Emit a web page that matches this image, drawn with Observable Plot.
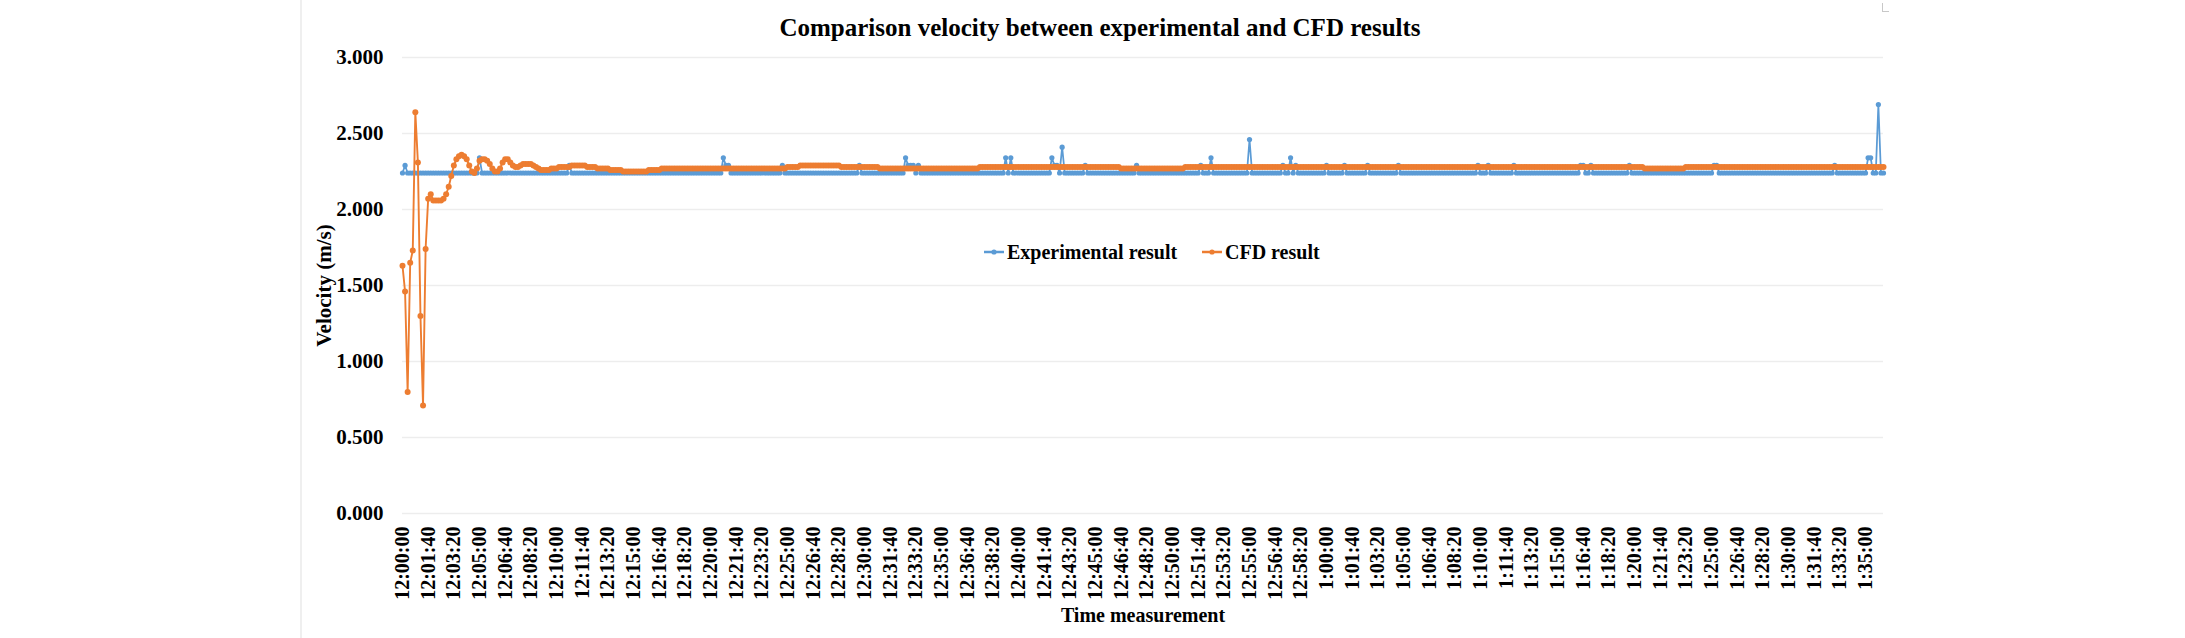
<!DOCTYPE html>
<html>
<head>
<meta charset="utf-8">
<script src="https://cdn.jsdelivr.net/npm/d3@7"></script>
<script src="https://cdn.jsdelivr.net/npm/@observablehq/plot@0.6"></script>
<style>
html,body{margin:0;padding:0;background:#fff;}
#wrap{position:relative;width:2185px;height:638px;overflow:hidden;font-family:"Liberation Serif","Times New Roman",serif;font-weight:bold;color:#000;}
#title{position:relative;height:48px;}
#title span{position:absolute;left:1100px;top:15px;transform:translateX(-50%);font-size:25px;line-height:1;white-space:nowrap;}
#border{position:absolute;left:300px;top:0;width:2px;height:638px;background:#efefef;}
#corner{position:absolute;left:1882px;top:3px;width:6px;height:8px;border-left:1px solid #c8c8c8;border-bottom:1px solid #c8c8c8;}
.leg{position:absolute;top:240px;font-size:20px;line-height:24px;white-space:nowrap;display:flex;align-items:center;}
.leg svg{margin-right:2px;}
</style>
</head>
<body>
<div id="wrap">
  <div id="border"></div>
  <div id="corner"></div>
  <div id="title"><span>Comparison velocity between experimental and CFD results</span></div>
  <div id="chart"></div>
  <div class="leg" id="leg1" style="left:983px;"></div>
  <div class="leg" id="leg2" style="left:1201px;"></div>
</div>
<script>
// Category tick labels (one label every 10 categories, 10 s per category)
const timeLabels = [
  "12:00:00","12:01:40","12:03:20","12:05:00","12:06:40","12:08:20","12:10:00","12:11:40","12:13:20","12:15:00",
  "12:16:40","12:18:20","12:20:00","12:21:40","12:23:20","12:25:00","12:26:40","12:28:20","12:30:00","12:31:40",
  "12:33:20","12:35:00","12:36:40","12:38:20","12:40:00","12:41:40","12:43:20","12:45:00","12:46:40","12:48:20",
  "12:50:00","12:51:40","12:53:20","12:55:00","12:56:40","12:58:20","1:00:00","1:01:40","1:03:20","1:05:00",
  "1:06:40","1:08:20","1:10:00","1:11:40","1:13:20","1:15:00","1:16:40","1:18:20","1:20:00","1:21:40",
  "1:23:20","1:25:00","1:26:40","1:28:20","1:30:00","1:31:40","1:33:20","1:35:00"
];
const labelInterval = 10;
const yTicks = [0, 0.5, 1, 1.5, 2, 2.5, 3];
const seriesNames = ["Experimental result", "CFD result"];

// Experimental result (m/s), one value per category
const expVelocity = [
  2.24,2.29,2.24,2.24,2.24,2.24,2.24,2.24,2.24,2.24,
  2.24,2.24,2.24,2.24,2.24,2.24,2.24,2.24,2.24,2.24,
  2.24,2.24,2.24,2.24,2.24,2.24,2.24,2.24,2.24,2.24,
  2.34,2.24,2.24,2.24,2.24,2.24,2.24,2.24,2.24,2.24,
  2.24,2.24,2.24,2.24,2.24,2.24,2.24,2.24,2.24,2.24,
  2.24,2.24,2.24,2.24,2.24,2.24,2.24,2.24,2.24,2.24,
  2.24,2.24,2.24,2.24,2.24,2.29,2.24,2.24,2.24,2.24,
  2.24,2.24,2.24,2.24,2.24,2.24,2.24,2.24,2.24,2.24,
  2.24,2.24,2.24,2.24,2.24,2.24,2.24,2.24,2.24,2.24,
  2.24,2.24,2.24,2.24,2.24,2.24,2.24,2.24,2.24,2.24,
  2.24,2.24,2.24,2.24,2.24,2.24,2.24,2.24,2.24,2.24,
  2.24,2.24,2.24,2.24,2.24,2.24,2.24,2.24,2.24,2.24,
  2.24,2.24,2.24,2.24,2.24,2.34,2.29,2.29,2.24,2.24,
  2.24,2.24,2.24,2.24,2.24,2.24,2.24,2.24,2.24,2.24,
  2.24,2.24,2.24,2.24,2.24,2.24,2.24,2.24,2.29,2.24,
  2.24,2.24,2.24,2.24,2.24,2.24,2.24,2.24,2.24,2.24,
  2.24,2.24,2.24,2.24,2.24,2.24,2.24,2.24,2.24,2.24,
  2.24,2.24,2.24,2.24,2.24,2.24,2.24,2.24,2.29,2.24,
  2.24,2.24,2.24,2.24,2.24,2.24,2.24,2.24,2.24,2.24,
  2.24,2.24,2.24,2.24,2.24,2.24,2.34,2.29,2.29,2.29,
  2.24,2.29,2.24,2.24,2.24,2.24,2.24,2.24,2.24,2.24,
  2.24,2.24,2.24,2.24,2.24,2.24,2.24,2.24,2.24,2.24,
  2.24,2.24,2.24,2.24,2.24,2.24,2.24,2.24,2.24,2.24,
  2.24,2.24,2.24,2.24,2.24,2.34,2.24,2.34,2.24,2.24,
  2.24,2.24,2.24,2.24,2.24,2.24,2.24,2.24,2.24,2.24,
  2.24,2.24,2.24,2.34,2.29,2.29,2.24,2.41,2.24,2.24,
  2.24,2.24,2.24,2.24,2.24,2.24,2.29,2.24,2.24,2.24,
  2.24,2.24,2.24,2.24,2.24,2.24,2.24,2.24,2.24,2.24,
  2.24,2.24,2.24,2.24,2.24,2.24,2.29,2.24,2.24,2.24,
  2.24,2.24,2.24,2.24,2.24,2.24,2.24,2.24,2.24,2.24,
  2.24,2.24,2.24,2.24,2.24,2.24,2.24,2.24,2.24,2.24,
  2.24,2.29,2.24,2.24,2.24,2.34,2.24,2.24,2.24,2.24,
  2.24,2.24,2.24,2.24,2.24,2.24,2.24,2.24,2.24,2.24,
  2.46,2.24,2.24,2.24,2.24,2.24,2.24,2.24,2.24,2.24,
  2.24,2.24,2.24,2.29,2.24,2.24,2.34,2.24,2.29,2.24,
  2.24,2.24,2.24,2.24,2.24,2.24,2.24,2.24,2.24,2.24,
  2.29,2.24,2.24,2.24,2.24,2.24,2.24,2.29,2.24,2.24,
  2.24,2.24,2.24,2.24,2.24,2.24,2.29,2.24,2.24,2.24,
  2.24,2.24,2.24,2.24,2.24,2.24,2.24,2.24,2.29,2.24,
  2.24,2.24,2.24,2.24,2.24,2.24,2.24,2.24,2.24,2.24,
  2.24,2.24,2.24,2.24,2.24,2.24,2.24,2.24,2.24,2.24,
  2.24,2.24,2.24,2.24,2.24,2.24,2.24,2.24,2.24,2.29,
  2.24,2.24,2.24,2.29,2.24,2.24,2.24,2.24,2.24,2.24,
  2.24,2.24,2.24,2.29,2.24,2.24,2.24,2.24,2.24,2.24,
  2.24,2.24,2.24,2.24,2.24,2.24,2.24,2.24,2.24,2.24,
  2.24,2.24,2.24,2.24,2.24,2.24,2.24,2.24,2.24,2.29,
  2.29,2.24,2.24,2.29,2.24,2.24,2.24,2.24,2.24,2.24,
  2.24,2.24,2.24,2.24,2.24,2.24,2.24,2.24,2.29,2.24,
  2.24,2.24,2.24,2.24,2.24,2.24,2.24,2.24,2.24,2.24,
  2.24,2.24,2.24,2.24,2.24,2.24,2.24,2.24,2.24,2.24,
  2.24,2.24,2.24,2.24,2.24,2.24,2.24,2.24,2.24,2.24,
  2.24,2.29,2.29,2.24,2.24,2.24,2.24,2.24,2.24,2.24,
  2.24,2.24,2.24,2.24,2.24,2.24,2.24,2.24,2.24,2.24,
  2.24,2.24,2.24,2.24,2.24,2.24,2.24,2.24,2.24,2.24,
  2.24,2.24,2.24,2.24,2.24,2.24,2.24,2.24,2.24,2.24,
  2.24,2.24,2.24,2.24,2.24,2.24,2.24,2.24,2.29,2.24,
  2.24,2.24,2.24,2.24,2.24,2.24,2.24,2.24,2.24,2.24,
  2.24,2.34,2.34,2.24,2.24,2.69,2.24,2.24
];

// CFD result (m/s), one value per category
const cfdVelocity = [
  1.63,1.46,0.80,1.65,1.73,2.64,2.31,1.30,0.71,1.74,
  2.07,2.10,2.06,2.06,2.06,2.06,2.07,2.10,2.15,2.22,
  2.29,2.33,2.35,2.36,2.35,2.33,2.29,2.25,2.24,2.27,
  2.32,2.33,2.33,2.32,2.30,2.27,2.25,2.25,2.27,2.31,
  2.33,2.33,2.31,2.29,2.28,2.28,2.29,2.30,2.30,2.30,
  2.30,2.29,2.28,2.27,2.26,2.26,2.26,2.26,2.27,2.27,
  2.27,2.28,2.28,2.28,2.28,2.28,2.29,2.29,2.29,2.29,
  2.29,2.29,2.28,2.28,2.28,2.28,2.27,2.27,2.27,2.27,
  2.27,2.26,2.26,2.26,2.26,2.26,2.25,2.25,2.25,2.25,
  2.25,2.25,2.25,2.25,2.25,2.25,2.26,2.26,2.26,2.26,
  2.26,2.27,2.27,2.27,2.27,2.27,2.27,2.27,2.27,2.27,
  2.27,2.27,2.27,2.27,2.27,2.27,2.27,2.27,2.27,2.27,
  2.27,2.27,2.27,2.27,2.27,2.27,2.27,2.27,2.27,2.27,
  2.27,2.27,2.27,2.27,2.27,2.27,2.27,2.27,2.27,2.27,
  2.27,2.27,2.27,2.27,2.27,2.27,2.27,2.27,2.27,2.27,
  2.28,2.28,2.28,2.28,2.28,2.29,2.29,2.29,2.29,2.29,
  2.29,2.29,2.29,2.29,2.29,2.29,2.29,2.29,2.29,2.29,
  2.29,2.28,2.28,2.28,2.28,2.28,2.28,2.28,2.28,2.28,
  2.28,2.28,2.28,2.28,2.28,2.28,2.27,2.27,2.27,2.27,
  2.27,2.27,2.27,2.27,2.27,2.27,2.27,2.27,2.27,2.27,
  2.27,2.27,2.27,2.27,2.27,2.27,2.27,2.27,2.27,2.27,
  2.27,2.27,2.27,2.27,2.27,2.27,2.27,2.27,2.27,2.27,
  2.27,2.27,2.27,2.27,2.27,2.28,2.28,2.28,2.28,2.28,
  2.28,2.28,2.28,2.28,2.28,2.28,2.28,2.28,2.28,2.28,
  2.28,2.28,2.28,2.28,2.28,2.28,2.28,2.28,2.28,2.28,
  2.28,2.28,2.28,2.28,2.28,2.28,2.28,2.28,2.28,2.28,
  2.28,2.28,2.28,2.28,2.28,2.28,2.28,2.28,2.28,2.28,
  2.28,2.28,2.28,2.28,2.28,2.28,2.28,2.28,2.28,2.28,
  2.27,2.27,2.27,2.27,2.27,2.27,2.27,2.27,2.27,2.27,
  2.27,2.27,2.27,2.27,2.27,2.27,2.27,2.27,2.27,2.27,
  2.27,2.27,2.27,2.27,2.27,2.28,2.28,2.28,2.28,2.28,
  2.28,2.28,2.28,2.28,2.28,2.28,2.28,2.28,2.28,2.28,
  2.28,2.28,2.28,2.28,2.28,2.28,2.28,2.28,2.28,2.28,
  2.28,2.28,2.28,2.28,2.28,2.28,2.28,2.28,2.28,2.28,
  2.28,2.28,2.28,2.28,2.28,2.28,2.28,2.28,2.28,2.28,
  2.28,2.28,2.28,2.28,2.28,2.28,2.28,2.28,2.28,2.28,
  2.28,2.28,2.28,2.28,2.28,2.28,2.28,2.28,2.28,2.28,
  2.28,2.28,2.28,2.28,2.28,2.28,2.28,2.28,2.28,2.28,
  2.28,2.28,2.28,2.28,2.28,2.28,2.28,2.28,2.28,2.28,
  2.28,2.28,2.28,2.28,2.28,2.28,2.28,2.28,2.28,2.28,
  2.28,2.28,2.28,2.28,2.28,2.28,2.28,2.28,2.28,2.28,
  2.28,2.28,2.28,2.28,2.28,2.28,2.28,2.28,2.28,2.28,
  2.28,2.28,2.28,2.28,2.28,2.28,2.28,2.28,2.28,2.28,
  2.28,2.28,2.28,2.28,2.28,2.28,2.28,2.28,2.28,2.28,
  2.28,2.28,2.28,2.28,2.28,2.28,2.28,2.28,2.28,2.28,
  2.28,2.28,2.28,2.28,2.28,2.28,2.28,2.28,2.28,2.28,
  2.28,2.28,2.28,2.28,2.28,2.28,2.28,2.28,2.28,2.28,
  2.28,2.28,2.28,2.28,2.28,2.28,2.28,2.28,2.28,2.28,
  2.28,2.28,2.28,2.28,2.27,2.27,2.27,2.27,2.27,2.27,
  2.27,2.27,2.27,2.27,2.27,2.27,2.27,2.27,2.27,2.27,
  2.28,2.28,2.28,2.28,2.28,2.28,2.28,2.28,2.28,2.28,
  2.28,2.28,2.28,2.28,2.28,2.28,2.28,2.28,2.28,2.28,
  2.28,2.28,2.28,2.28,2.28,2.28,2.28,2.28,2.28,2.28,
  2.28,2.28,2.28,2.28,2.28,2.28,2.28,2.28,2.28,2.28,
  2.28,2.28,2.28,2.28,2.28,2.28,2.28,2.28,2.28,2.28,
  2.28,2.28,2.28,2.28,2.28,2.28,2.28,2.28,2.28,2.28,
  2.28,2.28,2.28,2.28,2.28,2.28,2.28,2.28,2.28,2.28,
  2.28,2.28,2.28,2.28,2.28,2.28,2.28,2.28
];

const colors = ["#5B9BD5", "#ED7D31"];
const font = '"Liberation Serif","Times New Roman",serif';

const expData = expVelocity.map((v, i) => ({i, v}));
const cfdData = cfdVelocity.map((v, i) => ({i, v}));
const tickIdx = timeLabels.map((_, k) => k * labelInterval);
const lastIdx = Math.max(expVelocity.length, cfdVelocity.length) - 1;

const chart = Plot.plot({
  width: 2185,
  height: 590,
  marginTop: 9,
  marginBottom: 125,
  marginLeft: 402,
  marginRight: 302,
  style: {fontFamily: font, fontWeight: "bold", fontSize: "20px", color: "#000", background: "#fff", overflow: "visible"},
  x: {type: "linear", domain: [0, lastIdx]},
  y: {domain: [0, 3]},
  marks: [
    Plot.gridY(yTicks, {stroke: "#ededed", strokeOpacity: 1, strokeWidth: 1.5}),
    Plot.axisY(yTicks, {
      tickSize: 0, tickPadding: 19, tickFormat: d3.format(".3f"), fontSize: 21,
      label: "Velocity (m/s)", labelAnchor: "center", labelOffset: 86, labelArrow: "none"
    }),
    Plot.axisX(tickIdx, {
      tickSize: 0, tickPadding: 13, tickRotate: -90,
      tickFormat: (d) => timeLabels[d / labelInterval],
      label: "Time measurement", labelAnchor: "center", labelOffset: 108, labelArrow: "none"
    }),
    Plot.line(expData, {x: "i", y: "v", stroke: colors[0], strokeWidth: 1.75}),
    Plot.dot(expData, {x: "i", y: "v", r: 2.6, fill: colors[0], stroke: null}),
    Plot.line(cfdData, {x: "i", y: "v", stroke: colors[1], strokeWidth: 1.9}),
    Plot.dot(cfdData, {x: "i", y: "v", r: 3, fill: colors[1], stroke: null})
  ]
});
document.getElementById("chart").appendChild(chart);

function swatch(color) {
  return `<svg width="22" height="16"><line x1="1" y1="8" x2="21" y2="8" stroke="${color}" stroke-width="2.5"/><circle cx="11" cy="8" r="2.6" fill="${color}"/></svg>`;
}
document.getElementById("leg1").innerHTML = swatch(colors[0]) + `<span>${seriesNames[0]}</span>`;
document.getElementById("leg2").innerHTML = swatch(colors[1]) + `<span>${seriesNames[1]}</span>`;
</script>
</body>
</html>
